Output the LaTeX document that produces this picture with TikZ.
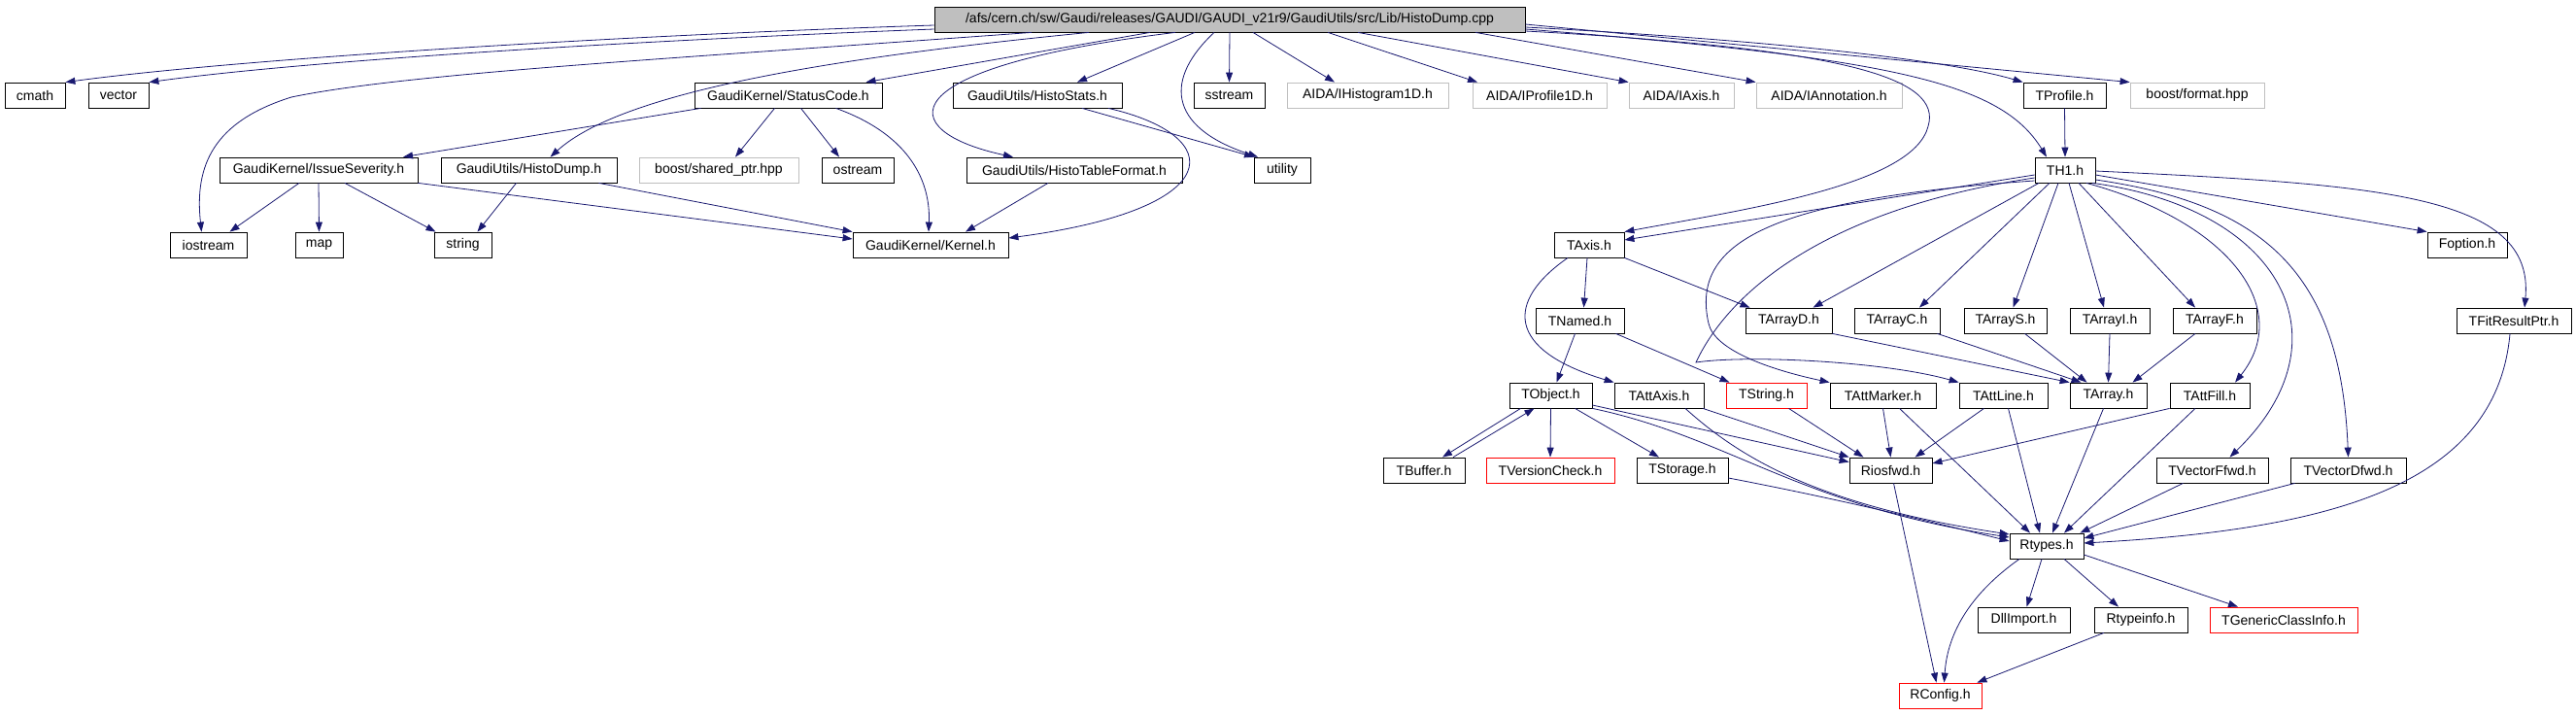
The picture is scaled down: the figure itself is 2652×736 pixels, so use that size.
\documentclass[tikz,border=0pt]{standalone}
\usepackage{fontspec}
\setmainfont{Liberation Sans}
\usetikzlibrary{arrows.meta}
\definecolor{edgeblue}{HTML}{191970}
\definecolor{graybox}{HTML}{BFBFBF}
\begin{document}
\begin{tikzpicture}[x=1pt,y=-1pt,
  box/.style={draw=black, line width=0.8pt, inner sep=0pt, minimum height=26pt, font=\fontsize{14}{16}\selectfont, text=black, anchor=center},
  extbox/.style={box, draw=graybox},
  redbox/.style={box, draw=red},
  rootbox/.style={box, fill=graybox},
  dep/.style={draw=edgeblue, line width=0.8pt, -{Triangle[length=10pt,width=7pt]}}
]
\useasboundingbox (0,0) rectangle (2652,736);

% nodes
\node[rootbox, minimum width=608pt] (root) at (1266,20) {/afs/cern.ch/sw/Gaudi/releases/GAUDI/GAUDI\_v21r9/GaudiUtils/src/Lib/HistoDump.cpp};

\node[box, minimum width=62pt] (cmath) at (36,98) {cmath};
\node[box, minimum width=62pt] (vector) at (122,98) {vector};
\node[box, minimum width=193pt] (StatusCode) at (811.5,98) {GaudiKernel/StatusCode.h};
\node[box, minimum width=174pt] (HistoStats) at (1068,98) {GaudiUtils/HistoStats.h};
\node[box, minimum width=73pt] (sstream) at (1265.5,98) {sstream};
\node[extbox, minimum width=166pt] (IHistogram1D) at (1408,98) {AIDA/IHistogram1D.h};
\node[extbox, minimum width=138pt] (IProfile1D) at (1585,98) {AIDA/IProfile1D.h};
\node[extbox, minimum width=108pt] (IAxis) at (1731,98) {AIDA/IAxis.h};
\node[extbox, minimum width=150pt] (IAnnotation) at (1883,98) {AIDA/IAnnotation.h};
\node[box, minimum width=85pt] (TProfile) at (2125.5,98) {TProfile.h};
\node[extbox, minimum width=138pt] (boostformat) at (2262,98) {boost/format.hpp};

\node[box, minimum width=204pt] (IssueSeverity) at (328,175) {GaudiKernel/IssueSeverity.h};
\node[box, minimum width=181pt] (HistoDump) at (544.5,175) {GaudiUtils/HistoDump.h};
\node[extbox, minimum width=164pt] (sharedptr) at (740,175) {boost/shared\_ptr.hpp};
\node[box, minimum width=74pt] (ostream) at (883,175) {ostream};
\node[box, minimum width=222pt] (HistoTableFormat) at (1106,175) {GaudiUtils/HistoTableFormat.h};
\node[box, minimum width=58pt] (utility) at (1320,175) {utility};
\node[box, minimum width=62pt] (TH1) at (2126,175) {TH1.h};

\node[box, minimum width=79pt] (iostream) at (214.5,252) {iostream};
\node[box, minimum width=49pt] (map) at (328.5,252) {map};
\node[box, minimum width=59pt] (string) at (476.5,252) {string};
\node[box, minimum width=160pt] (Kernel) at (958,252) {GaudiKernel/Kernel.h};
\node[box, minimum width=72pt] (TAxis) at (1636,252) {TAxis.h};
\node[box, minimum width=82pt] (Foption) at (2540,252) {Foption.h};

\node[box, minimum width=91pt] (TNamed) at (1626.5,330) {TNamed.h};
\node[box, minimum width=89pt] (TArrayD) at (1841.5,330) {TArrayD.h};
\node[box, minimum width=88pt] (TArrayC) at (1953,330) {TArrayC.h};
\node[box, minimum width=85pt] (TArrayS) at (2064.5,330) {TArrayS.h};
\node[box, minimum width=82pt] (TArrayI) at (2172,330) {TArrayI.h};
\node[box, minimum width=86pt] (TArrayF) at (2280,330) {TArrayF.h};
\node[box, minimum width=118pt] (TFitResultPtr) at (2588,330) {TFitResultPtr.h};

\node[box, minimum width=85pt] (TObject) at (1596.5,407) {TObject.h};
\node[box, minimum width=92pt] (TAttAxis) at (1708,407) {TAttAxis.h};
\node[redbox, minimum width=83pt] (TString) at (1818.5,407) {TString.h};
\node[box, minimum width=109pt] (TAttMarker) at (1938.5,407) {TAttMarker.h};
\node[box, minimum width=91pt] (TAttLine) at (2062.5,407) {TAttLine.h};
\node[box, minimum width=79pt] (TArray) at (2170.5,407) {TArray.h};
\node[box, minimum width=82pt] (TAttFill) at (2275,407) {TAttFill.h};

\node[box, minimum width=84pt] (TBuffer) at (1466,484) {TBuffer.h};
\node[redbox, minimum width=132pt] (TVersionCheck) at (1596,484) {TVersionCheck.h};
\node[box, minimum width=94pt] (TStorage) at (1732,484) {TStorage.h};
\node[box, minimum width=85pt] (Riosfwd) at (1946.5,484) {Riosfwd.h};
\node[box, minimum width=115pt] (TVectorFfwd) at (2277.5,484) {TVectorFfwd.h};
\node[box, minimum width=119pt] (TVectorDfwd) at (2417.5,484) {TVectorDfwd.h};

\node[box, minimum width=76pt] (Rtypes) at (2107,562) {Rtypes.h};
\node[box, minimum width=95pt] (DllImport) at (2083.5,638) {DllImport.h};
\node[box, minimum width=96pt] (Rtypeinfo) at (2204,638) {Rtypeinfo.h};
\node[redbox, minimum width=152pt] (TGenericClassInfo) at (2351,638) {TGenericClassInfo.h};
\node[redbox, minimum width=85pt] (RConfig) at (1997.5,716) {RConfig.h};

% root edges
\draw[dep] ([yshift=-6pt]root.west) .. controls (650,36) and (250,60) .. (cmath.north east);
\draw[dep] ([yshift=-10pt]root.west) .. controls (650,42) and (320,62) .. (vector.north east);
\draw[dep] ([xshift=-204pt]root.south) .. controls (700,60) and (420,75) .. (300,100) .. controls (220,125) and (200,170) .. ([xshift=-7pt]iostream.north);
\draw[dep] ([xshift=-145pt]root.south) .. controls (850,60) and (640,95) .. ([xshift=22pt]HistoDump.north);
\draw[dep] ([xshift=-82pt]root.south) -- ([xshift=80pt]StatusCode.north);
\draw[dep] ([xshift=-56pt]root.south) .. controls (910,70) and (920,135) .. ([xshift=-63pt]HistoTableFormat.north);
\draw[dep] ([xshift=-36pt]root.south) -- ([xshift=41pt]HistoStats.north);
\draw[dep] ([xshift=-16pt]root.south) .. controls (1200,80) and (1200,130) .. ([xshift=-25pt]utility.north);
\draw[dep] (root.south) -- (sstream.north);
\draw[dep] ([xshift=24pt]root.south) -- ([xshift=-34pt]IHistogram1D.north);
\draw[dep] ([xshift=101pt]root.south) -- ([xshift=-64pt]IProfile1D.north);
\draw[dep] ([xshift=132pt]root.south) -- (IAxis.north west);
\draw[dep] ([xshift=253pt]root.south) -- (IAnnotation.north west);
\draw[dep] ([yshift=-5pt]root.east) -- (boostformat.north west);
\draw[dep] ([yshift=-8pt]root.east) .. controls (1800,40) and (2000,60) .. (TProfile.north west);
\draw[dep] ([yshift=-10pt]root.east) .. controls (1950,60) and (2060,85) .. ([xshift=-19pt]TH1.north);
\draw[dep] ([yshift=-12pt]root.east) .. controls (1900,50) and (2000,80) .. (1985,130) .. controls (1970,190) and (1800,215) .. (TAxis.north east);

% Gaudi edges
\draw[dep] ([xshift=-90pt]StatusCode.south) -- ([xshift=87pt]IssueSeverity.north);
\draw[dep] ([xshift=-14pt]StatusCode.south) -- ([xshift=17pt]sharedptr.north);
\draw[dep] ([xshift=13pt]StatusCode.south) -- ([xshift=-19pt]ostream.north);
\draw[dep] ([xshift=49pt]StatusCode.south) .. controls (940,140) and (958,190) .. ([xshift=-2pt]Kernel.north);
\draw[dep] ([xshift=-20pt]IssueSeverity.south) -- ([xshift=22pt]iostream.north);
\draw[dep] (IssueSeverity.south) -- (map.north);
\draw[dep] ([xshift=27pt]IssueSeverity.south) -- ([xshift=-28pt]string.north);
\draw[dep] (IssueSeverity.south east) -- ([yshift=6pt]Kernel.west);
\draw[dep] ([xshift=-13pt]HistoDump.south) -- ([xshift=15pt]string.north);
\draw[dep] ([xshift=72pt]HistoDump.south) -- (Kernel.north west);
\draw[dep] ([xshift=-27pt]HistoTableFormat.south) -- ([xshift=36pt]Kernel.north);
\draw[dep] ([xshift=46pt]HistoStats.south) -- ([xshift=-29pt]utility.north);
\draw[dep] ([xshift=73pt]HistoStats.south) .. controls (1265,140) and (1265,215) .. ([yshift=7pt]Kernel.east);

% TProfile / TH1
\draw[dep] (TProfile.south) -- (TH1.north);
\draw[dep] ([yshift=-5pt]TH1.west) -- ([yshift=5pt]TAxis.east);
\draw[dep] ([xshift=-27pt]TH1.south) -- ([xshift=25pt]TArrayD.north);
\draw[dep] ([xshift=-16pt]TH1.south) -- ([xshift=23pt]TArrayC.north);
\draw[dep] ([xshift=-7pt]TH1.south) -- ([xshift=8pt]TArrayS.north);
\draw[dep] ([xshift=4pt]TH1.south) -- ([xshift=-6pt]TArrayI.north);
\draw[dep] ([xshift=14pt]TH1.south) -- ([xshift=-20pt]TArrayF.north);
\draw[dep] ([xshift=22pt]TH1.south) .. controls (2300,230) and (2360,320) .. ([xshift=26pt]TAttFill.north);
\draw[dep] ([xshift=28pt]TH1.south) .. controls (2350,215) and (2420,350) .. ([xshift=18pt]TVectorFfwd.north);
\draw[dep] ([yshift=-10pt]TH1.east) .. controls (2330,210) and (2410,280) .. (TVectorDfwd.north);
\draw[dep] ([yshift=-5pt]TH1.east) -- (Foption.north west);
\draw[dep] ([yshift=-1pt]TH1.east) .. controls (2450,190) and (2610,200) .. ([xshift=11pt]TFitResultPtr.north);
\draw[dep] ([yshift=-11pt]TH1.west) .. controls (1820,205) and (1740,250) .. (1759,333) .. controls (1765,360) and (1820,380) .. (TAttMarker.north west);
\draw[dep] ([yshift=-8pt]TH1.west) .. controls (1880,215) and (1780,300) .. (1746,373) .. controls (1800,365) and (1940,372) .. (TAttLine.north west);

% TAxis / TNamed / TObject
\draw[dep] ([xshift=-2pt]TAxis.south) -- ([xshift=4pt]TNamed.north);
\draw[dep] (TAxis.south east) -- ([xshift=-40pt]TArrayD.north);
\draw[dep] ([xshift=-22pt]TAxis.south) .. controls (1550,310) and (1550,360) .. (TAttAxis.north west);
\draw[dep] ([xshift=-5pt]TNamed.south) -- ([xshift=6pt]TObject.north);
\draw[dep] ([xshift=37pt]TNamed.south) -- ([xshift=-38pt]TString.north);
\draw[dep] ([xshift=-31pt]TObject.south) -- ([xshift=19pt]TBuffer.north);
\draw[dep] ([xshift=30pt]TBuffer.north) -- ([xshift=-17pt]TObject.south);
\draw[dep] (TObject.south) -- (TVersionCheck.north);
\draw[dep] ([xshift=25pt]TObject.south) -- ([xshift=-24pt]TStorage.north);
\draw[dep] ([yshift=-10pt]TObject.east) -- ([yshift=-5pt]Riosfwd.north west);
\draw[dep] (TObject.south east) .. controls (1780,450) and (1850,520) .. ([yshift=9pt]Rtypes.west);
\draw[dep] ([xshift=45pt]TAttAxis.south) -- (Riosfwd.north west);
\draw[dep] ([xshift=27pt]TAttAxis.south) .. controls (1790,470) and (1870,520) .. ([yshift=12pt]Rtypes.west);
\draw[dep] ([yshift=-8pt]TStorage.east) .. controls (1900,515) and (2000,540) .. ([yshift=5pt]Rtypes.west);
\draw[dep] ([xshift=23pt]TString.south) -- ([xshift=-28pt]Riosfwd.north);
\draw[dep] (TAttMarker.south) -- (Riosfwd.north);
\draw[dep] ([xshift=17pt]TAttMarker.south) -- ([xshift=-17pt]Rtypes.north);
\draw[dep] ([xshift=-20pt]TAttLine.south) -- ([xshift=25pt]Riosfwd.north);
\draw[dep] ([xshift=5pt]TAttLine.south) -- ([xshift=-7pt]Rtypes.north);
\draw[dep] ([xshift=-5pt]TArray.south) -- ([xshift=6pt]Rtypes.north);
\draw[dep] (TAttFill.south west) -- ([yshift=7pt]Riosfwd.east);
\draw[dep] ([xshift=-15pt]TAttFill.south) -- ([xshift=18pt]Rtypes.north);
\draw[dep] ([xshift=-30pt]TVectorFfwd.south) -- ([xshift=-4pt]Rtypes.north east);
\draw[dep] ([xshift=-55pt]TVectorDfwd.south) -- ([yshift=8pt]Rtypes.east);
\draw[dep] ([xshift=-4pt]TFitResultPtr.south) .. controls (2570,500) and (2400,545) .. ([yshift=3pt]Rtypes.east);

% arrays
\draw[dep] (TArrayD.south east) -- (TArray.north west);
\draw[dep] ([xshift=-3pt]TArrayC.south east) -- ([xshift=-28pt]TArray.north);
\draw[dep] ([xshift=20pt]TArrayS.south) -- ([xshift=-22pt]TArray.north);
\draw[dep] (TArrayI.south) -- (TArray.north);
\draw[dep] ([xshift=-20pt]TArrayF.south) -- ([xshift=25pt]TArray.north);

% bottom
\draw[dep] ([xshift=3pt]Riosfwd.south) -- ([xshift=-4pt]RConfig.north);
\draw[dep] ([xshift=-28pt]Rtypes.south) .. controls (2030,610) and (2005,650) .. ([xshift=4pt]RConfig.north);
\draw[dep] ([xshift=-5pt]Rtypes.south) -- ([xshift=3pt]DllImport.north);
\draw[dep] ([xshift=18pt]Rtypes.south) -- ([xshift=-23pt]Rtypeinfo.north);
\draw[dep] ([yshift=-9pt]Rtypes.east) -- ([xshift=-47pt]TGenericClassInfo.north);
\draw[dep] ([xshift=-38pt]Rtypeinfo.south) -- ([xshift=-5pt]RConfig.north east);
\end{tikzpicture}
\end{document}
